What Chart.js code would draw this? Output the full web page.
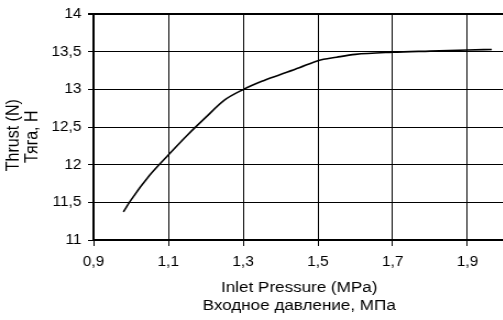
<!DOCTYPE html>
<html>
<head>
<meta charset="utf-8">
<script src="https://cdn.jsdelivr.net/npm/chart.js@4"></script>
<style>
    html, body { margin: 0; padding: 0; background: #fff; overflow: hidden; }
    /* the chart is drawn narrow and stretched sideways */
    #wrap { width: 462px; height: 320px; transform: scaleX(1.1); transform-origin: 0 0; }
</style>
</head>
<body>
<div id="wrap"><canvas id="thrustChart" width="462" height="320"></canvas></div>
<script>
// Inlet pressure, MPa
const pressure = [0.98, 1.0, 1.05, 1.1, 1.15, 1.2, 1.25, 1.3, 1.35, 1.4, 1.45, 1.5, 1.55, 1.6, 1.7, 1.8, 1.9, 1.965];
// Thrust, N
const thrust = [11.375, 11.53, 11.86, 12.13, 12.39, 12.63, 12.86, 13.0, 13.11, 13.2, 13.29, 13.385, 13.43, 13.468, 13.497, 13.512, 13.526, 13.534];

const xTicks = [0.9, 1.1, 1.3, 1.5, 1.7, 1.9];
const yTicks = [11, 11.5, 12, 12.5, 13, 13.5, 14];
const yTitle = ['Thrust (N)', 'Тяга, Н'];

const commaNum = v => String(v).replace('.', ',');
const family = 'Liberation Sans, Arial, sans-serif';
const font = { family, size: 14 };

// y axis title, two rotated lines sitting a little below the plot's middle
const yTitlePlugin = {
    id: 'yTitle',
    afterDraw(chart) {
        const { ctx, chartArea } = chart;
        const midY = (chartArea.top + chartArea.bottom) / 2 + 8;
        ctx.save();
        ctx.fillStyle = '#000';
        ctx.font = '16px ' + family;
        ctx.textAlign = 'center';
        ctx.textBaseline = 'middle';
        yTitle.forEach((line, i) => {
            ctx.save();
            ctx.translate(12.5 + i * 16.8, midY + i * 1.5);
            ctx.rotate(-Math.PI / 2);
            ctx.fillText(line, 0, 0);
            ctx.restore();
        });
        ctx.restore();
    }
};

new Chart(document.getElementById('thrustChart'), {
    type: 'line',
    data: {
        datasets: [{
            data: pressure.map((p, i) => ({ x: p, y: thrust[i] })),
            borderColor: '#000',
            borderWidth: 1.6,
            pointRadius: 0,
            tension: 0.4,
            cubicInterpolationMode: 'monotone'
        }]
    },
    options: {
        responsive: false,
        animation: false,
        layout: { padding: { top: 13, right: 3, left: 0, bottom: 0 } },
        plugins: { legend: { display: false }, tooltip: { enabled: false } },
        scales: {
            x: {
                type: 'linear',
                min: 0.9,
                max: 2.0,
                afterBuildTicks: s => { s.ticks = xTicks.map(v => ({ value: v })); },
                afterFit: s => { s.height = 80; },
                ticks: { color: '#000', font, padding: 8, maxRotation: 0, callback: v => commaNum(v.toFixed(1)) },
                grid: { color: '#000', lineWidth: 1, tickLength: 6 },
                border: { color: '#000', width: 2 },
                title: {
                    display: true,
                    text: ['Inlet Pressure (MPa)', 'Входное давление, МПа'],
                    color: '#000',
                    font: { family, size: 15.5, lineHeight: 1.17 },
                    padding: { top: 0, bottom: 5 }
                }
            },
            y: {
                min: 11,
                max: 14,
                afterBuildTicks: s => { s.ticks = yTicks.map(v => ({ value: v })); },
                afterFit: s => { s.width = 85; },
                ticks: { color: '#000', font, padding: 6, callback: v => commaNum(v) },
                grid: {
                    color: '#000',
                    lineWidth: c => (c.tick && c.tick.value === 14 ? 2 : 1),
                    tickLength: 5
                },
                border: { color: '#000', width: 2 }
            }
        }
    },
    plugins: [yTitlePlugin]
});
</script>
</body>
</html>
